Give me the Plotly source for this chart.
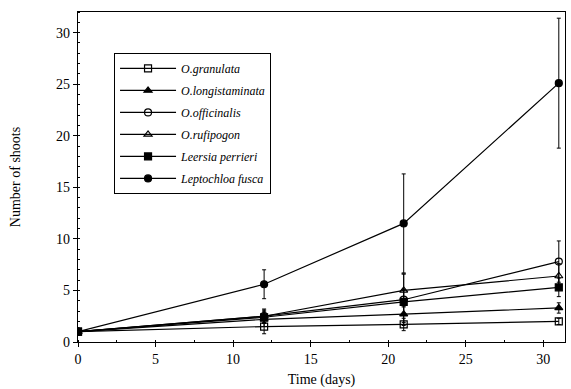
import plotly.graph_objects as go

days = [0, 12, 21, 31]
names = ["O.granulata", "O.longistaminata", "O.officinalis", "O.rufipogon",
         "Leersia perrieri", "Leptochloa fusca"]
granulata = [1.0, 1.5, 1.7, 2.0]
longistaminata = [1.0, 2.2, 2.7, 3.3]
officinalis = [1.0, 2.5, 4.1, 7.8]
rufipogon = [1.0, 2.5, 5.0, 6.4]
leersia = [1.0, 2.4, 3.9, 5.3]
leptochloa = [1.0, 5.6, 11.5, 25.1]

err_granulata = [0.1, 0.7, 0.6, 0.3]
err_longistaminata = [0.1, 0.7, 0.8, 0.5]
err_officinalis = [0.1, 0.7, 2.5, 2.0]
err_rufipogon = [0.1, 0.6, 1.6, 1.2]
err_leersia = [0.1, 0.6, 1.2, 0.9]
err_leptochloa = [0.1, 1.4, 4.8, 6.3]

series = [granulata, longistaminata, officinalis, rufipogon, leersia, leptochloa]
errors = [err_granulata, err_longistaminata, err_officinalis, err_rufipogon,
          err_leersia, err_leptochloa]
symbols = ["square-open", "triangle-up", "circle-open", "triangle-up-open",
           "square", "circle"]

fig = go.Figure()
for i, (n, ys, es, sym) in enumerate(zip(names, series, errors, symbols)):
    fig.add_trace(go.Scatter(
        x=days, y=ys, name=n, mode="lines+markers", legendgroup=f"g{i}",
        line=dict(color="black", width=1.2),
        marker=dict(symbol=sym, size=7, color="black",
                    line=dict(color="black", width=1.2)),
        error_y=dict(type="data", array=es, color="black", thickness=1, width=2),
    ))

font = "Liberation Serif, Times New Roman, serif"
fig.update_layout(
    width=571, height=389,
    margin=dict(l=78, r=6, t=12, b=47, autoexpand=False),
    paper_bgcolor="white", plot_bgcolor="white",
    font=dict(family=font, color="black", size=14),
    showlegend=True,
    legend=dict(
        x=0.074, y=0.876, xanchor="left", yanchor="top",
        bordercolor="black", borderwidth=1, bgcolor="white",
        font=dict(family=font, size=12, style="italic"),
        itemwidth=56, tracegroupgap=3,
    ),
    xaxis=dict(
        range=[0, 31.4], tickvals=[0, 5, 10, 15, 20, 25, 30],
        showgrid=False, zeroline=False, showline=True, linecolor="black",
        linewidth=1.2, mirror=True, ticks="outside", ticklen=4,
        tickcolor="black", automargin=False,
        title=dict(text="Time (days)", font=dict(size=14), standoff=8),
        minor=dict(ticks="inside", ticklen=2, dtick=2.5, tickcolor="black"),
    ),
    yaxis=dict(
        range=[0, 32], tickvals=[0, 5, 10, 15, 20, 25, 30],
        showgrid=False, zeroline=False, showline=True, linecolor="black",
        linewidth=1.2, mirror=True, ticks="outside", ticklen=4,
        tickcolor="black", automargin=False,
        title=dict(text="Number of shoots", font=dict(size=14), standoff=32),
        minor=dict(ticks="inside", ticklen=2, dtick=1, tickcolor="black"),
    ),
)
fig.write_html("out.html", config={"displayModeBar": False},
               post_script="document.body.style.margin='0';")
